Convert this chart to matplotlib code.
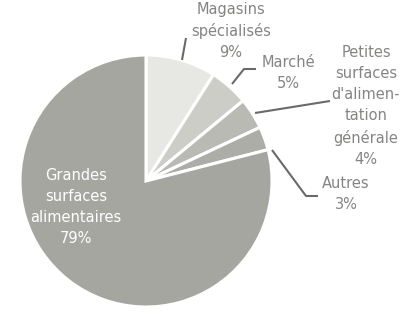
import matplotlib
matplotlib.use("Agg")
import matplotlib.pyplot as plt

labels = ["Magasins\nspécialisés", "Marché", "Petites\nsurfaces\nd'alimen-\ntation\ngénérale", "Autres", "Grandes\nsurfaces\nalimentaires"]
values = [9, 5, 4, 3, 79]
colors = ["#e7e7e3", "#cdcdc8", "#babab5", "#adada8", "#a6a6a1"]

W, H = 410, 317
fig = plt.figure(figsize=(W / 100, H / 100), dpi=100)
ax = fig.add_axes([0, 0, 1, 1])

cx, cy, r = 146, H - 181, 126
ax.pie(values, colors=colors, startangle=90, counterclock=False,
       center=(cx, cy), radius=r, frame=True,
       wedgeprops=dict(edgecolor="white", linewidth=2.2))
ax.set_xlim(0, W)
ax.set_ylim(0, H)
ax.set_aspect("equal")
ax.axis("off")

tc = "#848482"
lc = "#6a6a68"
fs = 10.5

def txt(x, y, s, color=tc):
    ax.text(x, H - y, s, ha="center", va="center", fontsize=fs, color=color,
            linespacing=1.5, family="DejaVu Sans")

txt(231, 31, labels[0] + "\n%d%%" % values[0])
txt(288, 73, labels[1] + "\n%d%%" % values[1])
txt(366, 106, labels[2] + "\n%d%%" % values[2])
txt(346, 194, labels[3] + "\n%d%%" % values[3])
txt(76, 207, labels[4] + "\n%d%%" % values[4], color="white")

def line(pts):
    ax.plot([p[0] for p in pts], [H - p[1] for p in pts], color=lc, lw=1.5,
            solid_capstyle="butt")

line([(182, 60), (186, 38)])
line([(232, 84), (244, 69), (256, 69)])
line([(255, 113), (330, 101)])
line([(272, 150), (306, 196), (318, 196)])

fig.savefig("out.png", dpi=100, facecolor="white")
